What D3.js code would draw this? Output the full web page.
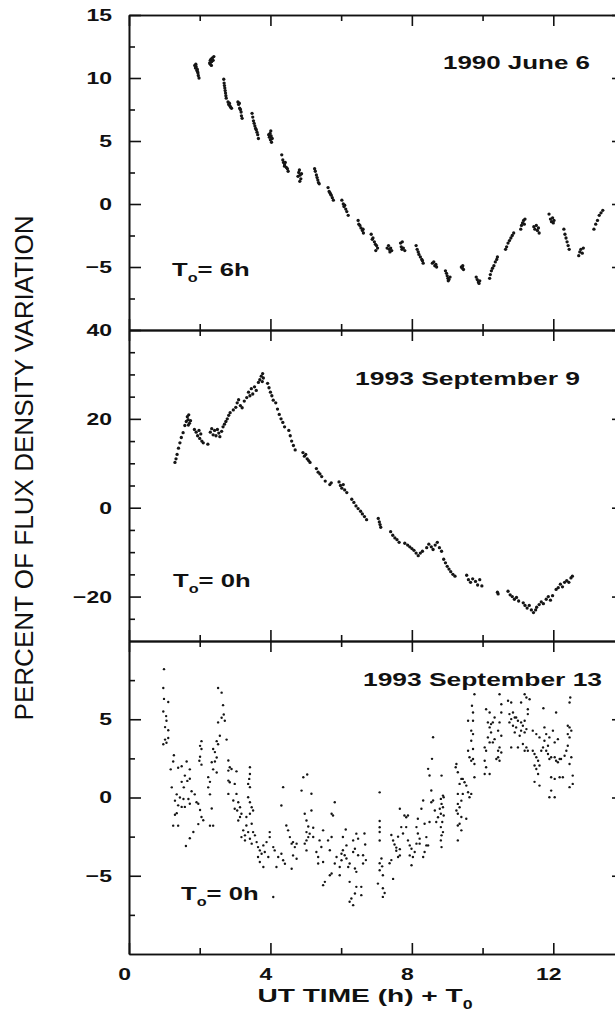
<!DOCTYPE html>
<meta charset="utf-8">
<style>
    body { margin: 0; background: #fff; }
    svg { display: block; }
    .frame path, .frame line { stroke: #111; stroke-width: 1.6px; fill: none; }
    .lab text { font-family: "Liberation Sans", Arial, sans-serif; font-weight: bold; font-size: 17px; fill: #111; }
    .lab path, .lab line { display: none; }
    .note { font-family: "Liberation Sans", Arial, sans-serif; font-weight: bold; font-size: 19px; fill: #111; }
</style>
<svg width="615" height="1019"></svg>
<script src="https://cdnjs.cloudflare.com/ajax/libs/d3/7.8.5/d3.min.js"></script>
<script>
// hours since T0, percent of flux density variation
var june6 = [
    [1.86,11.0],[1.88,10.8],[1.9,10.9],[1.92,10.6],[1.93,10.7],[1.95,10.4],[1.96,10.2],[1.98,10.0],[1.89,11.1],[1.94,10.5],
    [2.28,11.2],[2.3,11.4],[2.32,11.5],[2.34,11.3],[2.36,11.6],[2.38,11.4],[2.4,11.7],[2.33,11.0],[2.3,11.1],
    [2.68,9.9],[2.69,9.6],[2.7,9.4],[2.71,9.2],[2.72,9.0],[2.73,8.8],[2.74,8.6],[2.75,8.4],
    [2.8,8.1],[2.82,7.9],[2.85,7.8],[2.87,7.7],[2.9,7.6],[2.84,8.0],
    [3.08,8.1],[3.1,7.9],[3.12,8.0],[3.13,7.6],[3.15,7.5],[3.17,7.3],[3.18,7.0],[3.2,6.8],
    [3.48,7.2],[3.5,6.9],[3.52,6.6],[3.54,6.4],[3.56,6.2],[3.58,6.0],[3.6,5.9],[3.62,5.7],[3.64,5.5],[3.66,5.2],
    [3.95,5.5],[3.97,5.3],[3.99,5.6],[4.0,5.1],[4.02,5.4],[4.03,4.9],[4.05,5.2],[4.01,5.8],
    [4.32,3.9],[4.35,3.5],[4.37,3.3],[4.4,3.1],[4.42,3.3],[4.45,2.9],[4.48,2.8],[4.5,2.6],[4.4,3.0],
    [4.78,2.2],[4.8,2.5],[4.82,2.7],[4.84,2.3],[4.86,2.0],[4.83,1.8],[4.88,2.4],
    [5.25,2.8],[5.27,2.6],[5.3,2.3],[5.32,2.1],[5.34,1.9],[5.36,1.7],[5.38,1.6],
    [5.63,1.3],[5.66,1.0],[5.68,0.9],[5.7,0.8],[5.72,0.7],[5.75,0.5],[5.78,0.3],
    [6.02,0.3],[6.06,0.0],[6.08,-0.2],[6.1,-0.1],[6.13,-0.4],[6.16,-0.6],[6.2,-0.9],
    [6.48,-1.3],[6.5,-1.6],[6.53,-1.7],[6.56,-1.9],[6.6,-2.1],[6.63,-2.3],[6.62,-2.0],
    [6.85,-2.4],[6.88,-2.8],[6.9,-2.7],[6.94,-3.0],[6.97,-3.2],[7.0,-3.3],[7.03,-3.5],[6.98,-3.7],
    [7.3,-3.5],[7.34,-3.3],[7.36,-3.6],[7.4,-3.5],[7.43,-3.7],[7.38,-3.8],
    [7.68,-3.1],[7.7,-3.4],[7.73,-3.0],[7.76,-3.5],[7.8,-3.7],[7.72,-3.6],
    [8.12,-3.3],[8.15,-3.6],[8.18,-3.8],[8.2,-4.0],[8.24,-4.2],[8.28,-4.4],[8.3,-4.5],[8.32,-4.7],
    [8.58,-4.7],[8.62,-4.6],[8.65,-4.9],[8.68,-4.8],[8.7,-5.0],
    [8.95,-5.3],[8.98,-5.5],[9.0,-5.7],[9.02,-5.9],[9.05,-6.0],[9.08,-5.8],[9.03,-6.1],
    [9.4,-5.0],[9.43,-5.1],[9.46,-5.2],[9.44,-4.9],
    [9.82,-5.8],[9.85,-6.0],[9.88,-6.2],[9.9,-6.3],[9.92,-6.1],
    [10.2,-5.9],[10.22,-5.6],[10.25,-5.3],[10.28,-5.1],[10.32,-4.9],[10.36,-4.6],[10.4,-4.4],[10.42,-4.2],
    [10.65,-3.6],[10.68,-3.4],[10.72,-3.1],[10.76,-2.9],[10.8,-2.7],[10.84,-2.5],[10.88,-2.3],
    [11.08,-2.0],[11.1,-1.7],[11.13,-1.5],[11.16,-1.3],[11.18,-1.6],[11.2,-1.2],
    [11.45,-1.8],[11.48,-2.0],[11.52,-1.7],[11.55,-2.1],[11.58,-1.9],[11.6,-2.3],
    [11.88,-0.8],[11.92,-1.2],[11.95,-1.4],[11.98,-1.1],[12.0,-1.5],[12.02,-1.3],
    [12.3,-2.0],[12.33,-2.4],[12.36,-2.7],[12.39,-3.0],[12.42,-3.3],[12.45,-3.6],
    [12.72,-4.1],[12.75,-3.8],[12.78,-3.6],[12.82,-3.9],[12.85,-3.5],
    [13.15,-2.0],[13.2,-1.6],[13.25,-1.3],[13.3,-0.9],[13.35,-0.7],[13.4,-0.5]
];

var sep9 = [
    [1.30,10.2],[1.33,11.0],[1.36,12.0],[1.40,13.4],[1.44,14.6],[1.48,15.8],[1.53,16.9],[1.58,18.5],
    [1.62,19.4],[1.65,20.5],[1.67,19.8],[1.69,20.9],[1.71,19.0],[1.68,18.6],[1.74,19.6],
    [1.85,17.6],[1.9,17.0],[1.94,16.2],[1.98,17.4],[2.0,15.6],[2.03,16.6],[2.06,15.0],[2.1,14.6],
    [2.23,14.3],[2.3,17.0],[2.34,17.8],[2.38,16.4],[2.42,17.4],[2.46,16.2],[2.5,17.6],[2.54,16.8],[2.57,16.0],
    [2.62,17.2],[2.66,18.2],[2.7,18.8],[2.74,19.4],[2.78,20.0],[2.82,20.8],[2.86,21.4],
    [2.95,22.0],[3.02,22.6],[3.06,23.6],[3.1,24.3],[3.15,23.0],[3.2,22.5],[3.26,24.0],
    [3.33,24.8],[3.38,26.0],[3.42,25.2],[3.46,26.8],[3.5,25.6],[3.55,27.2],[3.6,26.4],
    [3.66,28.2],[3.7,28.8],[3.74,29.6],[3.77,28.4],[3.8,29.2],[3.78,30.2],
    [3.92,28.0],[3.96,27.0],[4.0,26.0],[4.04,25.2],[4.08,24.2],
    [4.15,23.6],[4.2,22.2],[4.25,21.0],[4.3,20.0],[4.35,19.2],[4.4,18.2],
    [4.52,17.4],[4.56,16.2],[4.6,15.0],[4.65,14.0],[4.7,13.0],
    [4.92,12.4],[4.96,11.6],[5.0,12.0],[5.04,11.0],[5.08,10.6],[5.12,10.2],
    [5.3,8.8],[5.35,8.0],[5.4,7.6],[5.45,7.0],[5.55,6.0],[5.68,5.2],[5.72,5.6],
    [5.94,5.8],[5.98,5.0],[6.02,4.4],[6.06,5.2],[6.1,4.0],[6.16,3.4],
    [6.3,1.9],[6.36,1.2],[6.42,0.4],[6.48,-0.2],[6.55,-0.8],[6.6,-1.4],[6.66,-2.0],[6.72,-2.7],
    [7.05,-2.4],[7.08,-3.2],[7.1,-3.8],[7.12,-4.4],
    [7.4,-5.4],[7.46,-6.2],[7.52,-6.8],[7.58,-7.2],[7.64,-7.8],
    [7.8,-8.0],[7.88,-8.4],[7.94,-8.8],[8.0,-9.2],[8.06,-9.6],[8.12,-10.2],[8.18,-10.8],[8.24,-10.2],[8.3,-9.8],
    [8.42,-9.0],[8.48,-8.2],[8.55,-8.8],[8.6,-9.4],[8.66,-8.4],[8.72,-7.8],[8.78,-9.0],[8.84,-9.8],
    [8.9,-11.6],[8.95,-12.4],[9.0,-13.2],[9.05,-13.8],[9.1,-14.4],[9.16,-15.0],[9.22,-15.4],
    [9.55,-15.2],[9.6,-16.2],[9.66,-16.8],[9.72,-16.0],[9.8,-16.6],[9.86,-17.4],[9.92,-16.2],[9.98,-17.6],
    [10.42,-19.0],[10.44,-19.4],
    [10.72,-18.8],[10.78,-19.6],[10.84,-20.0],[10.9,-20.6],[10.96,-20.2],[11.02,-21.0],
    [11.15,-21.4],[11.2,-22.0],[11.26,-22.6],[11.32,-22.0],[11.38,-23.0],[11.44,-23.6],[11.5,-23.0],[11.53,-22.4],
    [11.6,-21.8],[11.66,-21.2],[11.72,-21.6],[11.8,-20.6],[11.86,-20.0],[11.92,-20.8],[11.98,-19.8],
    [12.08,-18.4],[12.14,-18.0],[12.2,-17.2],[12.26,-17.8],[12.32,-16.8],[12.38,-16.4],[12.44,-16.8],[12.5,-15.8],[12.54,-15.4]
];

var sep13 = [
    [0.99,8.2],[0.97,7.0],[0.99,6.3],[1.11,6.1],[0.97,5.5],[1.05,5.2],[1.06,4.9],[1.02,4.5],[1.11,4.3],[1.02,3.7],[1.11,3.8],[0.97,3.4],[1.06,3.5],[1.27,2.7],[1.25,2.3],
    [1.18,1.8],[1.39,1.9],[1.49,2.0],[1.63,2.3],[1.72,1.8],[1.58,1.4],
    [1.49,1.0],[1.65,1.06],[1.72,1.2],[1.55,0.65],[1.77,0.4],[1.86,0.2],
    [1.21,0.65],[1.35,0.2],[1.44,0.0],[1.30,-0.2],[1.54,-0.1],[1.68,-0.1],
    [1.39,-0.5],[1.49,-0.6],[1.58,-0.6],[1.72,-0.4],[1.35,-1.0],[1.30,-1.1],[1.25,-1.8],[1.39,-1.8],
    [1.91,-0.3],[1.96,-0.4],[2.01,-0.8],[2.05,-1.25],[1.96,-1.7],[2.10,-1.45],[1.82,-2.2],[1.72,-2.6],[1.61,-3.1],
    [2.05,3.6],[2.01,3.3],[2.05,3.1],[2.01,2.6],[1.99,2.35],[2.05,2.1],
    [2.24,1.3],[2.29,1.0],[2.24,0.65],[2.29,0.2],[2.34,-0.7],[2.29,-1.8],[2.38,-1.8],
    [2.38,3.1],[2.43,2.9],[2.34,2.25],[2.43,2.3],[2.48,2.56],[2.38,1.8],[2.48,1.6],
    [2.52,7.0],[2.62,6.7],[2.66,5.9],[2.68,5.3],[2.62,5.1],[2.52,4.8],[2.71,4.9],[2.76,3.7],[2.57,3.95],[2.48,3.6],[2.52,3.4],
    [2.81,2.36],[2.85,1.93],[2.81,1.72],[2.9,1.82],[2.81,1.08],[2.85,0.97],[3.04,1.67],
    [2.81,0.23],[2.99,0.87],[3.04,0.23],[2.95,-0.19],[3.09,-0.3],[2.99,-0.72],[3.06,-0.83],[3.14,-0.62],[3.18,-1.04],[3.09,-1.47],[3.14,-1.25],
    [3.42,1.93],[3.42,1.5],[3.4,1.19],[3.37,0.87],[3.42,0.66],[3.37,0.02],[3.42,-0.3],[3.47,-0.62],
    [3.32,-1.25],[3.42,-1.04],[3.51,-0.83],[3.47,-1.68],[3.32,-1.79],[3.37,-2.21],[3.28,-2.42],[3.51,-2.21],
    [3.23,-2.1],[3.18,-2.53],[3.28,-2.74],[3.42,-2.64],[3.47,-2.95],[3.56,-2.42],[3.61,-2.85],
    [3.65,-3.17],[3.7,-3.38],[3.75,-3.59],[3.8,-3.06],[3.84,-3.48],[3.94,-3.8],[3.89,-2.85],
    [3.65,-3.8],[3.7,-4.12],[3.8,-4.44],[3.98,-2.53],[3.98,-2.21],[4.08,-3.17],[4.12,-3.38],
    [4.22,-3.8],[4.31,-3.59],[4.36,-4.01],[4.17,-4.44],[4.31,-0.51],[4.36,0.66],[4.45,-1.79],[4.5,-2.1],[4.55,-2.53],
    [4.6,-2.95],[4.64,-2.85],[4.69,-3.17],[4.74,-2.95],[4.64,-3.7],[4.74,-3.91],[4.6,-4.55],[4.41,-4.23],
    [4.88,0.44],[4.93,1.29],[4.97,-1.04],[5.02,-1.47],[5.02,-2.21],[5.07,-2.53],[4.97,-2.95],[5.02,-3.38],
    [4.08,-6.36],
    [5.04,1.47],[5.16,0.24],[5.16,-0.83],[5.07,-1.85],[5.21,-1.93],[5.11,-2.31],[5.02,-2.74],[5.21,-2.52],
    [5.3,-3.48],[5.35,-3.8],[5.44,-3.16],[5.39,-2.74],[5.49,-2.1],[5.73,-1.04],[5.77,-1.15],[5.82,-0.3],[5.73,-2.52],[5.63,-2.74],[5.68,-3.37],
    [5.35,-4.22],[5.49,-4.12],[5.54,-5.39],[5.49,-5.6],[5.73,-4.86],[5.68,-4.97],[5.82,-4.22],[5.87,-3.8],[5.96,-4.44],[6.01,-4.01],[6.05,-2.52],
    [5.96,-4.97],[6.01,-3.59],[6.05,-3.37],[6.15,-3.06],[6.1,-3.69],[6.15,-3.9],[6.24,-4.22],[6.2,-4.44],[6.34,-2.74],[6.39,-3.27],[6.48,-2.63],[6.43,-2.31],
    [6.24,-5.39],[6.29,-6.45],[6.24,-6.66],[6.34,-6.88],[6.39,-6.13],[6.43,-5.71],[6.57,-6.24],[6.57,-5.71],[6.62,-4.22],[6.62,-3.69],[6.48,-3.69],[6.34,-3.48],[6.39,-4.54],[6.43,-4.75],[6.13,-2.04],
    [6.66,-2.3],[6.68,-3.0],[6.7,-4.0],
    [7.09,0.33],[7.09,-1.5],[7.09,-1.9],[7.09,-2.2],[7.09,-2.75],[7.14,-3.9],[7.09,-4.2],[7.16,-4.4],[7.09,-4.65],[7.18,-4.97],[7.04,-5.5],[7.18,-5.8],[7.23,-6.1],[7.18,-6.35],
    [7.37,-4.2],[7.42,-4.0],[7.47,-5.2],[7.42,-2.4],[7.47,-2.75],[7.51,-3.0],[7.56,-3.2],[7.61,-2.5],[7.66,-3.3],[7.61,-3.8],[7.66,-3.7],[7.56,-3.4],
    [7.66,-0.72],[7.70,-1.89],[7.75,-2.3],[7.79,-1.15],[7.84,-1.26],[7.89,-1.15],[7.84,-1.89],[7.89,-2.74],[7.94,-3.06],[7.99,-3.27],[7.94,-3.7],[7.99,-4.33],
    [8.03,-3.8],[8.08,-3.48],[8.13,-2.95],[8.13,-1.89],[8.17,-1.36],[8.22,-2.95],[8.17,-2.3],[8.22,-2.63],[8.27,-0.72],[8.32,-0.19],[8.36,-1.68],[8.41,-2.53],
    [8.46,-3.06],[8.32,-3.8],[8.36,-3.48],[8.41,-3.06],[8.50,-1.57],[8.55,-0.3],[8.60,-0.19],[8.65,-0.83],[8.69,-1.57],[8.74,-1.26],[8.79,-0.72],
    [8.55,0.45],[8.50,1.41],[8.46,1.83],[8.57,2.47],[8.60,3.85],
    [8.84,1.4],[8.88,0.12],[8.82,-0.09],[8.9,0.02],[8.84,-0.41],[8.88,-0.62],[8.82,-1.04],[8.9,-1.15],[8.86,-1.57],[8.82,-1.89],[8.88,-2.21],[8.84,-2.42],[8.82,-2.74],[8.84,-3.17],
    [9.26,2.14],[9.24,1.93],[9.3,1.61],[9.4,1.19],[9.44,1.19],[9.35,0.87],[9.49,0.97],[9.54,0.76],[9.44,0.23],[9.3,0.23],[9.59,0.34],[9.68,0.23],
    [9.63,0.02],[9.4,-0.2],[9.3,-0.41],[9.35,-0.62],[9.26,-0.83],[9.3,-1.04],[9.4,-1.25],[9.54,-1.36],[9.35,-1.68],[9.3,-1.79],[9.4,-2.1],[9.3,-2.74],
    [9.59,2.99],[9.63,2.57],[9.68,2.35],[9.73,2.46],[9.77,2.14],[9.77,1.29],[9.73,3.1],[9.68,3.63],[9.73,4.05],[9.68,4.27],[9.73,4.9],[9.59,4.9],[9.7,5.86],[9.73,5.43],[9.77,6.6],
    [10.06,3.2],[10.1,2.99],[10.06,2.35],[10.1,1.93],[10.2,1.5],[10.06,1.5],[10.2,3.52],[10.15,3.84],[10.24,4.16],[10.29,3.52],[10.34,3.73],[10.24,4.69],[10.2,4.48],[10.15,4.8],[10.29,4.8],
    [10.34,5.11],[10.44,2.99],[10.48,3.2],[10.44,2.57],[10.39,2.46],[10.48,2.35],[10.53,2.88],[10.53,3.95],[10.44,4.27],[10.48,4.8],[10.53,5.43],[10.1,5.64],[10.2,5.43],[10.48,6.6],[10.53,5.96],
    [10.72,6.18],[10.81,6.07],[10.76,5.33],[10.86,5.43],[10.91,5.11],[10.81,5.01],[10.76,4.8],[10.95,5.11],[11.0,4.9],[10.95,4.48],[10.86,4.58],[10.91,4.16],[11.09,4.8],[11.14,4.58],[11.19,4.9],
    [11.24,4.37],[11.19,4.16],[11.28,5.33],[11.28,5.64],[11.33,6.28],[11.24,6.39],[11.09,6.07],[11.19,6.6],[10.81,3.2],[11.0,3.2],[11.14,3.42],[11.24,3.2],[11.28,2.99],[11.19,2.99],[11.05,3.95],[11.09,4.27],
    [11.42,2.99],[11.47,2.78],[11.52,2.57],[11.57,2.35],[11.47,2.04],[11.52,1.82],[11.61,2.04],[11.57,1.5],[11.66,2.99],[11.71,3.2],[11.75,3.63],[11.8,4.05],[11.75,4.48],[11.8,2.99],[11.85,2.78],
    [11.89,2.46],[11.94,2.57],[12.04,2.57],[12.08,2.35],[12.13,2.25],[12.18,2.46],[12.22,2.46],[12.32,2.67],[12.37,2.99],[12.41,3.31],[12.46,3.84],[12.41,4.05],[12.41,4.58],[12.46,4.48],[12.51,4.27],
    [12.46,6.07],[12.48,6.39],[12.08,5.43],[11.99,4.27],[12.13,3.73],[12.04,3.52],[11.94,1.29],[12.04,1.19],[12.18,1.29],[12.27,1.29],[11.89,0.02],[12.04,0.02],[11.94,0.44],[12.46,0.66],
    [12.55,0.87],[12.55,1.4],[12.46,2.14],[12.51,2.57],[11.47,1.0],[11.61,0.76],[11.52,4.05],[11.42,4.27],[11.61,3.84],[11.85,3.31],[11.89,3.84],[11.72,5.7]
];

var xMajor = [0, 4, 8, 12];
var xMinor = [2, 6, 10];
var xLabels = [0, 4, 8, 12];

var panelDomains = [[-10, 15], [-30, 40], [-10, 10]];
var panelLabels = [[15, 10, 5, 0, -5], [40, 20, 0, -20], [5, 0, -5]];
var panelMinor = [[12.5, 7.5, 2.5, -2.5, -7.5], [35, 30, 25, 15, 10, 5, -5, -10, -15, -25], [7.5, 2.5, -2.5, -7.5]];
var panelTitles = ["1990 June 6", "1993 September 9", "1993 September 13"];
var panelT0 = ["6h", "0h", "0h"];
var panelData = [june6, sep9, sep13];

var svg = d3.select("svg");
var left = 129, right = 624;
var bands = [[15, 330], [330, 641], [641, 954]];
var sx = 1.35;   // source lettering is wide

var x = d3.scaleLinear().domain([0, 14]).range([left, right]);

function widen(sel, dx) {
    sel.selectAll("text")
        .attr("x", 0)
        .attr("transform", "translate(" + dx + ",0) scale(" + sx + ",1)");
}

var titlePos = [[443, 69, 147], [355, 385, 225], [363, 686, 239]];
var t0Pos = [[172, 276], [173, 587], [181, 900]];

panelDomains.forEach(function(dom, i) {
    var top = bands[i][0], bot = bands[i][1];
    var y = d3.scaleLinear().domain(dom).range([bot, top]);
    var frame = svg.append("g").attr("class", "frame");

    // left and right edges
    frame.append("g").attr("transform", "translate(" + left + ",0)")
        .call(d3.axisRight(y).tickValues(panelLabels[i]).tickSize(12).tickSizeOuter(0).tickFormat(""));
    frame.append("g").attr("transform", "translate(" + left + ",0)")
        .call(d3.axisRight(y).tickValues(panelMinor[i]).tickSize(6).tickSizeOuter(0).tickFormat(""));
    frame.append("g").attr("transform", "translate(" + right + ",0)")
        .call(d3.axisLeft(y).tickValues(panelLabels[i]).tickSize(12).tickSizeOuter(0).tickFormat(""));
    frame.append("g").attr("transform", "translate(" + right + ",0)")
        .call(d3.axisLeft(y).tickValues(panelMinor[i]).tickSize(6).tickSizeOuter(0).tickFormat(""));

    // top and bottom edges, ticks pointing inward
    frame.append("g").attr("transform", "translate(0," + top + ")")
        .call(d3.axisBottom(x).tickValues(xMajor).tickSize(11).tickSizeOuter(0).tickFormat(""));
    frame.append("g").attr("transform", "translate(0," + top + ")")
        .call(d3.axisBottom(x).tickValues(xMinor).tickSize(6).tickSizeOuter(0).tickFormat(""));
    frame.append("g").attr("transform", "translate(0," + bot + ")")
        .call(d3.axisTop(x).tickValues(xMajor).tickSize(11).tickSizeOuter(0).tickFormat(""));
    frame.append("g").attr("transform", "translate(0," + bot + ")")
        .call(d3.axisTop(x).tickValues(xMinor).tickSize(6).tickSizeOuter(0).tickFormat(""));

    // tick labels
    var yl = svg.append("g").attr("class", "lab").attr("transform", "translate(" + left + ",0)")
        .call(d3.axisLeft(y).tickValues(panelLabels[i]).tickSize(0).tickPadding(17));
    widen(yl, -17);

    // dots
    svg.append("g").selectAll("circle")
        .data(panelData[i])
        .enter().append("circle")
        .attr("cx", function(d) { return x(d[0]); })
        .attr("cy", function(d) { return y(d[1]); })
        .attr("r", i == 2 ? 1.2 : 1.65)
        .attr("fill", "#151515");

    // annotations
    var tp = titlePos[i];
    svg.append("text").attr("class", "note")
        .attr("x", tp[0]).attr("y", tp[1])
        .attr("textLength", tp[2]).attr("lengthAdjust", "spacingAndGlyphs")
        .text(panelTitles[i]);

    var tz = svg.append("g")
        .attr("transform", "translate(" + t0Pos[i][0] + "," + t0Pos[i][1] + ") scale(" + sx + ",1)");
    var t = tz.append("text").attr("class", "note");
    t.append("tspan").text("T");
    t.append("tspan").attr("dy", 6).attr("font-size", 12).text("o");
    t.append("tspan").attr("dy", -6).text("= " + panelT0[i]);
});

// bottom hour labels
var xl = svg.append("g").attr("class", "lab").attr("transform", "translate(0," + bands[2][1] + ")")
    .call(d3.axisBottom(x).tickValues(xLabels).tickSize(0).tickPadding(14));
widen(xl, -5);

// axis titles
var xt = svg.append("g").attr("transform", "translate(365,1002) scale(1.48,1)");
var xtt = xt.append("text").attr("class", "note").attr("font-size", 21).attr("text-anchor", "middle");
xtt.append("tspan").text("UT TIME (h) + T");
xtt.append("tspan").attr("dy", 7).attr("font-size", 12).text("0");

svg.append("text")
    .attr("transform", "translate(33,468) rotate(-90)")
    .attr("text-anchor", "middle")
    .attr("textLength", 505).attr("lengthAdjust", "spacingAndGlyphs")
    .style("font-family", "'Liberation Sans', Arial, sans-serif")
    .style("font-size", "25px")
    .style("fill", "#111")
    .text("PERCENT OF FLUX DENSITY VARIATION");
</script>
